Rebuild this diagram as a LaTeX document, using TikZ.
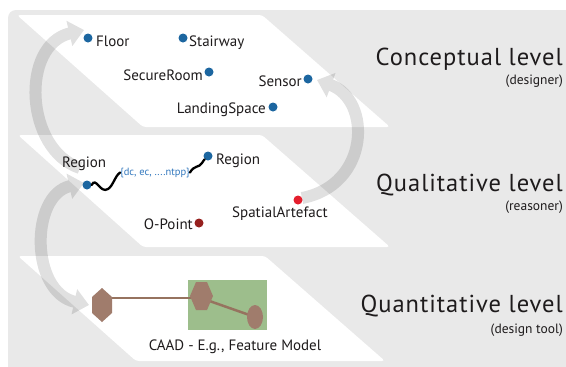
\documentclass[tikz,border=0pt]{standalone}
\usepackage{fontspec}
\setmainfont{PT Sans}
\newfontfamily\titlefont[LetterSpace=4]{PT Sans}
\usetikzlibrary{arrows.meta,shapes.geometric}
\definecolor{bggray}{RGB}{233,233,233}
\definecolor{dotblue}{RGB}{28,102,160}
\definecolor{relblue}{RGB}{50,120,190}
\definecolor{artred}{RGB}{228,30,45}
\definecolor{opred}{RGB}{150,32,30}
\definecolor{txt}{RGB}{30,27,28}
\definecolor{brownshape}{RGB}{160,124,108}
\definecolor{brownline}{RGB}{150,115,95}
\definecolor{featgreen}{RGB}{157,190,140}
\tikzset{
  plane/.style={fill=white, rounded corners=3pt},
  flow/.style={draw=black, line width=12pt, -{Triangle[width=25pt,length=15pt]}},
  flowboth/.style={draw=black, line width=12pt, {Triangle[width=25pt,length=15pt]}-{Triangle[width=25pt,length=15pt]}},
  bdot/.style={circle, fill=dotblue, inner sep=0pt, minimum size=9pt},
  rdot/.style={circle, fill=artred, inner sep=0pt, minimum size=9pt},
  odot/.style={circle, fill=opred, inner sep=0pt, minimum size=9pt},
  lbl/.style={font=\fontsize{15}{18}\selectfont, text=txt, inner sep=0pt},
  rel/.style={font=\fontsize{10.5}{12}\selectfont, text=relblue, inner sep=0pt},
  title/.style={font=\titlefont\fontsize{24.5}{29}\selectfont, text=txt, inner sep=0pt, anchor=base east},
  sub/.style={font=\fontsize{13.5}{16}\selectfont, text=txt, inner sep=0pt, anchor=base east},
  wave/.style={draw=black, line width=2.3pt, line cap=round},
  link/.style={draw=brownline, line width=2.5pt},
  shapefill/.style={fill=brownshape}
}
\begin{document}
\begin{tikzpicture}[x=1pt,y=-1pt]
\useasboundingbox (0,0) rectangle (566,367);
\fill[white] (0,0) rectangle (566,367);
\fill[bggray, rounded corners=8pt] (8,10) rectangle (600,400);
% planes
\fill[plane] (17,15) -- (262,15) -- (390,127) -- (143,127) -- cycle;
\fill[plane] (18,135) -- (262,135) -- (390,247) -- (143,247) -- cycle;
\fill[plane] (18,256) -- (265,256) -- (385,361) -- (136,361) -- cycle;
% flow arrows
\coordinate (upS) at (80,168);
\coordinate (upE) at (84,30);
\coordinate (dnS) at (84,183);
\coordinate (dnE) at (89,305);
\coordinate (rtS) at (302,198);
\coordinate (rtE) at (317,80);
\begin{scope}[transparency group, opacity=0.12]
\draw[flow] (upS) .. controls (25,150) and (20,45) .. (upE);
\end{scope}
\begin{scope}[transparency group, opacity=0.12]
\draw[flowboth] (dnS) .. controls (30,195) and (30,292) .. (dnE);
\end{scope}
\begin{scope}[transparency group, opacity=0.12]
\draw[flow] (rtS) .. controls (370,185) and (372,100) .. (rtE);
\end{scope}
% conceptual level
\node[bdot] (floord) at (88,38) {};
\node[lbl, anchor=base west] (floor) at (96,46) {Floor};
\node[bdot] (stairsd) at (183,38) {};
\node[lbl, anchor=base west] (stairs) at (189,46) {Stairway};
\node[bdot] (secd) at (209,72) {};
\node[lbl, anchor=base east] (sec) at (203,80) {SecureRoom};
\node[bdot] (sensd) at (308,79) {};
\node[lbl, anchor=base east] (sens) at (302,86) {Sensor};
\node[bdot] (landd) at (273,107) {};
\node[lbl, anchor=base east] (land) at (266,113) {LandingSpace};
% qualitative level
\node[bdot] (rega) at (87,185) {};
\node[lbl, anchor=base west] (regat) at (62,167) {Region};
\node[bdot] (regb) at (208,156) {};
\node[lbl, anchor=base west] (regbt) at (216,164) {Region};
\node[rel, anchor=base west] (relt) at (120,175) {\{dc, ec, ....ntpp\}};
\draw[wave] (rega.east) .. controls (96,176) and (100,194) .. (108,189) .. controls (113,186) and (115,176) .. (relt.west);
\draw[wave] (relt.east) .. controls (194,165) and (199,168) .. (202,163) .. controls (204,160) .. (regb.south west);
\node[odot] (opd) at (199,223) {};
\node[lbl, anchor=base east] (opt) at (193,229) {O-Point};
\node[rdot] (artd) at (298,200) {};
\node[lbl, anchor=base west] (artt) at (232,217) {SpatialArtefact};
% quantitative level
\fill[featgreen] (188,280) rectangle (267,330);
\coordinate (hexa) at (102,298);
\coordinate (hexb) at (201,298);
\coordinate (ellc) at (255,317);
\draw[link] (hexa) -- (hexb);
\draw[link] (hexb) -- (ellc);
\fill[shapefill] (102,288) -- (112,297) -- (112,313) -- (102,322) -- (92,313) -- (92,297) -- cycle;
\fill[shapefill] (190,296) -- (196,282) -- (207,282) -- (213,296) -- (207,310) -- (196,310) -- cycle;
\node[ellipse, shapefill, inner sep=0pt, minimum width=16pt, minimum height=24pt] (ell) at (ellc) {};
\node[lbl, anchor=base] (caad) at (235,350) {CAAD - E.g., Feature Model};
% level titles
\node[title] (t1) at (563,65) {Conceptual level};
\node[sub] (s1) at (563,84) {(designer)};
\node[title] (t2) at (563,191) {Qualitative level};
\node[sub] (s2) at (563,210) {(reasoner)};
\node[title] (t3) at (563,312) {Quantitative level};
\node[sub] (s3) at (563,333) {(design tool)};
\end{tikzpicture}
\end{document}
